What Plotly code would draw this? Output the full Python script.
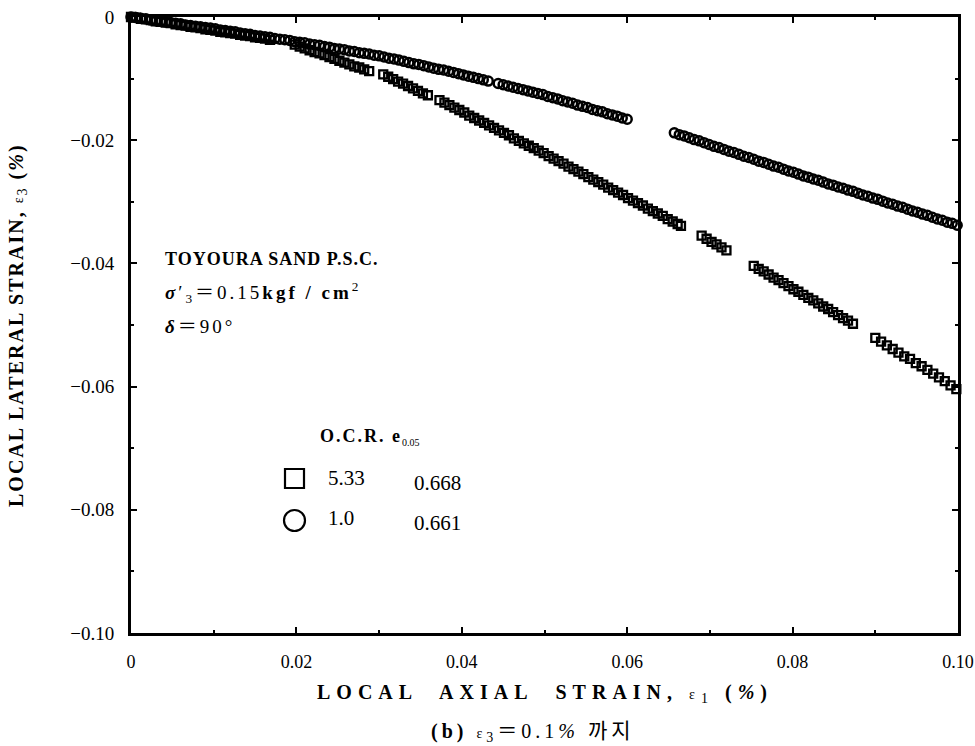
import plotly.graph_objects as go

# ---- data (local axial strain eps1 %, local lateral strain eps3 %) ----
# O.C.R. = 1.0 (circles)
circ_x = [0.0000, 0.0006, 0.0012, 0.0018, 0.0024, 0.0030, 0.0036, 0.0042, 0.0048, 0.0054,
          0.0060, 0.0066, 0.0072, 0.0078, 0.0084, 0.0090, 0.0096, 0.0102, 0.0108, 0.0114,
          0.0120, 0.0126, 0.0132, 0.0138, 0.0144, 0.0150, 0.0156, 0.0162, 0.0168, 0.0174,
          0.0180, 0.0186, 0.0192, 0.0198, 0.0204, 0.0210, 0.0216, 0.0222, 0.0228, 0.0234,
          0.0240, 0.0246, 0.0252, 0.0258, 0.0264, 0.0270, 0.0276, 0.0282, 0.0288, 0.0294,
          0.0300, 0.0306, 0.0312, 0.0318, 0.0324, 0.0330, 0.0336, 0.0342, 0.0348, 0.0354,
          0.0360, 0.0366, 0.0372, 0.0378, 0.0384, 0.0390, 0.0396, 0.0402, 0.0408, 0.0414,
          0.0420, 0.0426, 0.0432,
          0.0444, 0.0450, 0.0456, 0.0462, 0.0468, 0.0474, 0.0480, 0.0486, 0.0492, 0.0498,
          0.0504, 0.0510, 0.0516, 0.0522, 0.0528, 0.0534, 0.0540, 0.0546, 0.0552, 0.0558,
          0.0564, 0.0570, 0.0576, 0.0582, 0.0588, 0.0594, 0.0600,
          0.0657, 0.0663, 0.0669, 0.0675, 0.0681, 0.0687, 0.0693, 0.0699, 0.0705, 0.0711,
          0.0717, 0.0723, 0.0729, 0.0735, 0.0741, 0.0747, 0.0753, 0.0759, 0.0765, 0.0771,
          0.0777, 0.0783, 0.0789, 0.0795, 0.0801, 0.0807, 0.0813, 0.0819, 0.0825, 0.0831,
          0.0837, 0.0843, 0.0849, 0.0855, 0.0861, 0.0867, 0.0873, 0.0879, 0.0885, 0.0891,
          0.0897, 0.0903, 0.0909, 0.0915, 0.0921, 0.0927, 0.0933, 0.0939, 0.0945, 0.0951,
          0.0957, 0.0963, 0.0969, 0.0975, 0.0981, 0.0987, 0.0993, 0.0999]
circ_y = [0.0000, -0.0001, -0.0002, -0.0003, -0.0005, -0.0006, -0.0007, -0.0008, -0.0009, -0.0010,
          -0.0011, -0.0013, -0.0014, -0.0015, -0.0016, -0.0017, -0.0018, -0.0019, -0.0021, -0.0022,
          -0.0023, -0.0024, -0.0026, -0.0027, -0.0028, -0.0030, -0.0031, -0.0032, -0.0033, -0.0035,
          -0.0036, -0.0037, -0.0038, -0.0040, -0.0041, -0.0042, -0.0044, -0.0045, -0.0046, -0.0048,
          -0.0049, -0.0051, -0.0052, -0.0053, -0.0055, -0.0056, -0.0058, -0.0059, -0.0060, -0.0062,
          -0.0063, -0.0065, -0.0067, -0.0068, -0.0070, -0.0072, -0.0074, -0.0076, -0.0077, -0.0079,
          -0.0081, -0.0083, -0.0085, -0.0086, -0.0088, -0.0090, -0.0092, -0.0094, -0.0096, -0.0098,
          -0.0100, -0.0102, -0.0104,
          -0.0108, -0.0110, -0.0112, -0.0114, -0.0116, -0.0118, -0.0120, -0.0122, -0.0124, -0.0126,
          -0.0129, -0.0131, -0.0133, -0.0136, -0.0138, -0.0140, -0.0143, -0.0145, -0.0147, -0.0150,
          -0.0152, -0.0154, -0.0157, -0.0159, -0.0161, -0.0164, -0.0166,
          -0.0188, -0.0191, -0.0193, -0.0196, -0.0199, -0.0201, -0.0204, -0.0207, -0.0210, -0.0212,
          -0.0215, -0.0218, -0.0220, -0.0223, -0.0226, -0.0228, -0.0231, -0.0234, -0.0236, -0.0239,
          -0.0242, -0.0244, -0.0247, -0.0250, -0.0252, -0.0255, -0.0258, -0.0260, -0.0263, -0.0265,
          -0.0268, -0.0271, -0.0273, -0.0276, -0.0278, -0.0281, -0.0283, -0.0286, -0.0289, -0.0291,
          -0.0294, -0.0296, -0.0299, -0.0302, -0.0304, -0.0307, -0.0309, -0.0312, -0.0315, -0.0317,
          -0.0320, -0.0322, -0.0325, -0.0328, -0.0330, -0.0333, -0.0335, -0.0338]

# O.C.R. = 5.33 (squares)
sq_x = [0.0000, 0.0006, 0.0012, 0.0018, 0.0024, 0.0030, 0.0036, 0.0042, 0.0048, 0.0054,
        0.0060, 0.0066, 0.0072, 0.0078, 0.0084, 0.0090, 0.0096, 0.0102, 0.0108, 0.0114,
        0.0120, 0.0126, 0.0132, 0.0138, 0.0144, 0.0150, 0.0156, 0.0162, 0.0168,
        0.0198, 0.0204, 0.0210, 0.0216, 0.0222, 0.0228, 0.0234, 0.0240, 0.0246, 0.0252,
        0.0258, 0.0264, 0.0270, 0.0276, 0.0282, 0.0288,
        0.0305, 0.0311, 0.0317, 0.0323, 0.0329, 0.0335, 0.0341, 0.0347, 0.0353, 0.0359,
        0.0373, 0.0379, 0.0385, 0.0391, 0.0397, 0.0403, 0.0409, 0.0415, 0.0421, 0.0427,
        0.0433, 0.0439, 0.0445, 0.0451, 0.0457, 0.0463, 0.0469, 0.0475, 0.0481, 0.0487,
        0.0493, 0.0499, 0.0505, 0.0511, 0.0517, 0.0523, 0.0529, 0.0535, 0.0541, 0.0547,
        0.0553, 0.0559, 0.0565, 0.0571, 0.0577, 0.0583, 0.0589, 0.0595, 0.0601, 0.0607,
        0.0613, 0.0619, 0.0625, 0.0631, 0.0637, 0.0643, 0.0649, 0.0655, 0.0661, 0.0665,
        0.0690, 0.0696, 0.0702, 0.0708, 0.0714, 0.0720,
        0.0753, 0.0759, 0.0765, 0.0771, 0.0777, 0.0783, 0.0789, 0.0795, 0.0801, 0.0807,
        0.0813, 0.0819, 0.0825, 0.0831, 0.0837, 0.0843, 0.0849, 0.0855, 0.0861, 0.0867,
        0.0873,
        0.0900, 0.0907, 0.0914, 0.0921, 0.0928, 0.0935, 0.0942, 0.0949, 0.0956, 0.0963,
        0.0970, 0.0977, 0.0984, 0.0991, 0.0998]
sq_y = [0.0000, -0.0001, -0.0003, -0.0004, -0.0005, -0.0007, -0.0008, -0.0009, -0.0010, -0.0012,
        -0.0013, -0.0014, -0.0016, -0.0017, -0.0018, -0.0020, -0.0021, -0.0022, -0.0024, -0.0025,
        -0.0026, -0.0027, -0.0029, -0.0030, -0.0031, -0.0033, -0.0034, -0.0035, -0.0037,
        -0.0045, -0.0048, -0.0051, -0.0054, -0.0057, -0.0059, -0.0062, -0.0065, -0.0068, -0.0071,
        -0.0074, -0.0077, -0.0080, -0.0082, -0.0085, -0.0088,
        -0.0093, -0.0097, -0.0101, -0.0105, -0.0108, -0.0112, -0.0116, -0.0120, -0.0124, -0.0127,
        -0.0135, -0.0139, -0.0143, -0.0147, -0.0151, -0.0155, -0.0160, -0.0164, -0.0168, -0.0172,
        -0.0176, -0.0180, -0.0184, -0.0188, -0.0192, -0.0197, -0.0201, -0.0205, -0.0209, -0.0213,
        -0.0217, -0.0221, -0.0226, -0.0230, -0.0234, -0.0238, -0.0243, -0.0247, -0.0251, -0.0255,
        -0.0260, -0.0264, -0.0268, -0.0272, -0.0277, -0.0281, -0.0285, -0.0289, -0.0294, -0.0298,
        -0.0302, -0.0306, -0.0311, -0.0315, -0.0319, -0.0323, -0.0328, -0.0332, -0.0336, -0.0339,
        -0.0355, -0.0360, -0.0365, -0.0369, -0.0374, -0.0379,
        -0.0404, -0.0409, -0.0413, -0.0418, -0.0423, -0.0427, -0.0432, -0.0437, -0.0442, -0.0446,
        -0.0451, -0.0456, -0.0460, -0.0465, -0.0470, -0.0474, -0.0479, -0.0484, -0.0489, -0.0493,
        -0.0498,
        -0.0521, -0.0527, -0.0533, -0.0539, -0.0545, -0.0551, -0.0555, -0.0562, -0.0567, -0.0573,
        -0.0579, -0.0585, -0.0591, -0.0598, -0.0604]

x_ticks = [0, 0.02, 0.04, 0.06, 0.08, 0.10]
x_tick_labels = ["0", "0.02", "0.04", "0.06", "0.08", "0.10"]
y_ticks = [0, -0.02, -0.04, -0.06, -0.08, -0.10]
y_tick_labels = ["0", "\u22120.02", "\u22120.04", "\u22120.06", "\u22120.08", "\u22120.10"]

SERIF = "Liberation Serif, DejaVu Serif, serif"
CJK = "Noto Sans CJK KR"

fig = go.Figure()
fig.add_trace(go.Scatter(
    x=sq_x, y=sq_y, mode="markers", name="O.C.R. 5.33", cliponaxis=False,
    marker=dict(symbol="square-open", size=8, color="black", line=dict(width=2.3, color="black")),
))
fig.add_trace(go.Scatter(
    x=circ_x, y=circ_y, mode="markers", name="O.C.R. 1.0", cliponaxis=False,
    marker=dict(symbol="circle-open", size=9, color="black", line=dict(width=2.5, color="black")),
))

axis_common = dict(
    showline=True, linecolor="black", linewidth=3, mirror="ticks",
    ticks="inside", ticklen=6, tickwidth=2, tickcolor="black",
    showgrid=False, zeroline=False, automargin=False,
    minor=dict(dtick=0.01, ticks="inside", ticklen=3, tickwidth=1.5, tickcolor="black", showgrid=False),
)
fig.update_xaxes(
    range=[0, 0.1], tickvals=x_ticks, ticktext=x_tick_labels,
    ticklabelstandoff=10, tickfont=dict(family=SERIF, size=18, color="black"),
    **axis_common,
)
fig.update_yaxes(
    range=[-0.1, 0], tickvals=y_ticks, ticktext=y_tick_labels,
    ticklabelstandoff=10, tickfont=dict(family=SERIF, size=19, color="black"),
    **axis_common,
)


def px_x(p):
    return (p - 131) / 827


def px_y(p):
    return (633 - p) / 616


annotations = [
    dict(x=0.5, y=px_y(693), xref="paper", yref="paper", xanchor="center", yanchor="middle",
         text="<span style='letter-spacing:6px'><b>LOCAL\u00a0 AXIAL\u00a0 STRAIN,</b> "
              "<span style='font-size:14px'>ε</span><sub>1</sub> <b>(<i>%</i>)</b></span>",
         showarrow=False, font=dict(family=SERIF, size=20, color="black")),
    dict(x=px_x(17), y=0.5, xref="paper", yref="paper", xanchor="center", yanchor="middle", textangle=-90,
         text="<span style='letter-spacing:2px'><b>LOCAL LATERAL STRAIN,</b> "
              "<span style='font-size:14px'>ε</span><sub>3</sub> <b>(<i>%</i>)</b></span>",
         showarrow=False, font=dict(family=SERIF, size=20, color="black")),
    dict(x=px_x(533), y=px_y(729), xref="paper", yref="paper", xanchor="center", yanchor="middle",
         text="<span style='letter-spacing:4px'><b>(b)</b> <span style='font-size:14px'>ε</span><sub>3</sub>"
              f"<span style='font-family:{CJK}'>＝</span>0.1<i>%</i> "
              f"<span style='font-family:{CJK};font-size:21px'>까지</span></span>",
         showarrow=False, font=dict(family=SERIF, size=20, color="black")),
    dict(x=px_x(163), y=px_y(259), xref="paper", yref="paper", xanchor="left", yanchor="middle",
         text="<span style='letter-spacing:1px'><b>TOYOURA SAND P.S.C.</b></span>",
         showarrow=False, font=dict(family=SERIF, size=18, color="black")),
    dict(x=px_x(163), y=px_y(291), xref="paper", yref="paper", xanchor="left", yanchor="middle",
         text="<span style='letter-spacing:3px'><b><i>σ</i></b>′<sub>3</sub>"
              f"<span style='font-family:{CJK}'>＝</span>0.15<b>kgf\u00a0/\u00a0cm</b><sup>2</sup></span>",
         showarrow=False, font=dict(family=SERIF, size=19, color="black")),
    dict(x=px_x(163), y=px_y(324), xref="paper", yref="paper", xanchor="left", yanchor="middle",
         text=f"<span style='letter-spacing:3px'><b><i>δ</i></b><span style='font-family:{CJK}'>＝</span>90°</span>",
         showarrow=False, font=dict(family=SERIF, size=19, color="black")),
    dict(x=px_x(318), y=px_y(437), xref="paper", yref="paper", xanchor="left", yanchor="middle",
         text="<span style='letter-spacing:2px'><b>O.C.R. e</b></span><sub><span style='font-size:10px'>0.05</span></sub>",
         showarrow=False, font=dict(family=SERIF, size=18, color="black")),
    dict(x=px_x(326), y=px_y(478), xref="paper", yref="paper", xanchor="left", yanchor="middle",
         text="5.33", showarrow=False, font=dict(family=SERIF, size=21, color="black")),
    dict(x=px_x(412), y=px_y(483), xref="paper", yref="paper", xanchor="left", yanchor="middle",
         text="0.668", showarrow=False, font=dict(family=SERIF, size=21, color="black")),
    dict(x=px_x(326), y=px_y(518), xref="paper", yref="paper", xanchor="left", yanchor="middle",
         text="1.0", showarrow=False, font=dict(family=SERIF, size=21, color="black")),
    dict(x=px_x(412), y=px_y(523), xref="paper", yref="paper", xanchor="left", yanchor="middle",
         text="0.661", showarrow=False, font=dict(family=SERIF, size=21, color="black")),
]

shapes = [
    dict(type="rect", xref="paper", yref="paper",
         x0=px_x(285), x1=px_x(304), y0=px_y(488), y1=px_y(469),
         line=dict(color="black", width=2.2)),
    dict(type="circle", xref="paper", yref="paper",
         x0=px_x(284), x1=px_x(305), y0=px_y(531), y1=px_y(510),
         line=dict(color="black", width=2.2)),
]

fig.update_layout(
    width=975, height=746,
    margin=dict(l=131, r=17, t=17, b=113),
    paper_bgcolor="white", plot_bgcolor="white",
    showlegend=False,
    annotations=annotations,
    shapes=shapes,
    font=dict(family=SERIF, color="black"),
)

fig.write_html("out.html")
